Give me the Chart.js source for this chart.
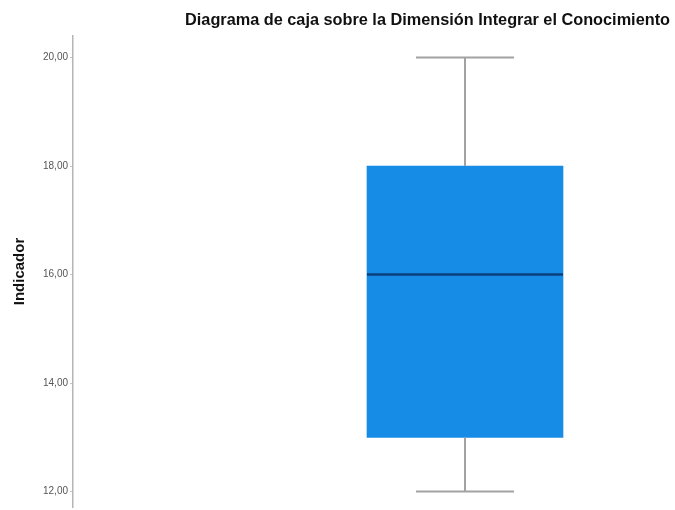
<!DOCTYPE html>
<html>
<head>
<meta charset="utf-8">
<script src="https://cdn.jsdelivr.net/npm/chart.js@4"></script>
<style>
  html, body { margin: 0; padding: 0; background: #fff; }
  #wrap { width: 675px; height: 510px; overflow: hidden; }
</style>
</head>
<body>
<div id="wrap"><canvas id="boxChart"></canvas></div>
<script>
// datos del diagrama de caja
const categories = ['Integrar el Conocimiento'];
const minValues = [12];
const q1Values = [13];
const medianValues = [16];
const q3Values = [18];
const maxValues = [20];
const tickValues = [12, 14, 16, 18, 20];

// bigotes y mediana, dibujados con las escalas del gráfico
const boxExtras = {
  id: 'boxExtras',
  afterDatasetsDraw(chart) {
    const ctx = chart.ctx;
    const y = chart.scales.y;
    const meta = chart.getDatasetMeta(0);
    meta.data.forEach((bar, i) => {
      const cx = bar.x;
      const half = bar.width / 2;
      const capHalf = half / 2;
      const yMin = y.getPixelForValue(minValues[i]);
      const yQ1 = y.getPixelForValue(q1Values[i]);
      const yMed = y.getPixelForValue(medianValues[i]);
      const yQ3 = y.getPixelForValue(q3Values[i]);
      const yMax = y.getPixelForValue(maxValues[i]);
      ctx.save();
      ctx.strokeStyle = '#a2a2a2';
      ctx.lineWidth = 2;
      ctx.beginPath();
      ctx.moveTo(cx, yQ3); ctx.lineTo(cx, yMax);
      ctx.moveTo(cx - capHalf, yMax); ctx.lineTo(cx + capHalf, yMax);
      ctx.moveTo(cx, yQ1); ctx.lineTo(cx, yMin);
      ctx.moveTo(cx - capHalf, yMin); ctx.lineTo(cx + capHalf, yMin);
      ctx.stroke();
      ctx.strokeStyle = '#0b3f7c';
      ctx.lineWidth = 2.5;
      ctx.beginPath();
      ctx.moveTo(cx - half, yMed); ctx.lineTo(cx + half, yMed);
      ctx.stroke();
      ctx.restore();
    });
  }
};

const ctx = document.getElementById('boxChart').getContext('2d');
new Chart(ctx, {
  type: 'bar',
  data: {
    labels: categories,
    datasets: [{
      label: categories[0],
      data: categories.map((c, i) => ({ x: i, y: [q1Values[i], q3Values[i]] })),
      backgroundColor: '#178ce6',
      borderWidth: 0,
      barThickness: 196
    }]
  },
  options: {
    responsive: true,
    maintainAspectRatio: false,
    animation: false,
    layout: { padding: { right: 5, bottom: 0, left: 11 } },
    plugins: {
      legend: { display: false },
      tooltip: { enabled: false },
      title: {
        display: true,
        text: 'Diagrama de caja sobre la Dimensión Integrar el Conocimiento',
        align: 'end',
        color: '#111',
        font: { family: 'Liberation Sans', size: 16.3, weight: 'bold' },
        padding: { top: 11, bottom: 5 }
      }
    },
    scales: {
      x: {
        type: 'linear',
        display: false,
        offset: false,
        min: -1,
        max: 0.523
      },
      y: {
        min: 11.706,
        max: 20.405,
        afterBuildTicks: axis => { axis.ticks = tickValues.map(v => ({ value: v })); },
        ticks: {
          color: '#555',
          font: { family: 'Liberation Sans', size: 10, lineHeight: 0.1 },
          padding: 2,
          callback: v => v.toFixed(2).replace('.', ',')
        },
        grid: { drawOnChartArea: false, drawTicks: true, tickLength: 3, color: '#c4c4c4' },
        border: { display: true, color: '#b5b5b5', width: 1.5 },
        title: {
          display: true,
          text: 'Indicador',
          color: '#111',
          font: { family: 'Liberation Sans', size: 15, weight: 'bold' },
          padding: { top: 0, bottom: 12 }
        }
      }
    }
  },
  plugins: [boxExtras]
});
</script>
</body>
</html>
